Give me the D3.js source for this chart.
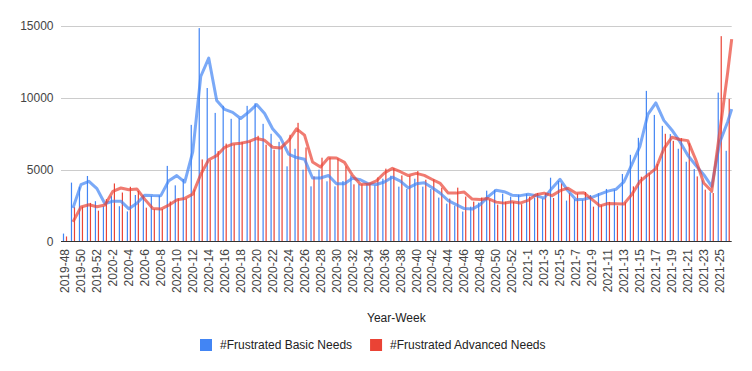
<!DOCTYPE html>
<html>
<head>
<meta charset="utf-8">
<script src="https://cdn.jsdelivr.net/npm/d3@7"></script>
<style>
  body { margin: 0; background: #fff; }
  text { font-family: Arial, "Liberation Sans", sans-serif; }
</style>
</head>
<body>
<div id="chart"></div>
<script>

const weeks = [
  "2019-48","2019-49","2019-50","2019-51","2019-52",
  "2020-1","2020-2","2020-3","2020-4","2020-5","2020-6","2020-7","2020-8","2020-9","2020-10",
  "2020-11","2020-12","2020-13","2020-14","2020-15","2020-16","2020-17","2020-18","2020-19","2020-20",
  "2020-21","2020-22","2020-23","2020-24","2020-25","2020-26","2020-27","2020-28","2020-29","2020-30",
  "2020-31","2020-32","2020-33","2020-34","2020-35","2020-36","2020-37","2020-38","2020-39","2020-40",
  "2020-41","2020-42","2020-43","2020-44","2020-45","2020-46","2020-47","2020-48","2020-49","2020-50",
  "2020-51","2020-52","2020-53",
  "2021-1","2021-2","2021-3","2021-4","2021-5","2021-6","2021-7","2021-8","2021-9","2021-10",
  "2021-11","2021-12","2021-13","2021-14","2021-15","2021-16","2021-17","2021-18","2021-19","2021-20",
  "2021-21","2021-22","2021-23","2021-24","2021-25","2021-26"
];

// weekly counts
const basicNeeds = [
  550, 4090, 3810, 4550, 2800, 2450, 3150, 2450, 2090, 3230,
  3210, 3170, 3200, 5250, 3900, 4350, 8100, 14820, 10660, 8930,
  9420, 8520, 8560, 9420, 9600, 8170, 7480, 6920, 5220, 6440,
  4990, 3830, 4990, 4180, 3830, 4200, 4590, 3990, 4020, 3900,
  4360, 4570, 3810, 3650, 4360, 3810, 3650, 3050, 2630, 2490,
  2080, 2420, 2700, 3530, 3600, 3320, 3120, 3250, 3320, 3050,
  2980, 4430, 4200, 2840, 2950, 2910, 3230, 3350, 3650, 3600,
  4690, 6020, 7200, 10460, 8790, 8030, 7460, 6440, 5540, 5030,
  4250, 3420, 10340, 6300
];

const advancedNeeds = [
  350, 2380, 2420, 2680, 2140, 2940, 4030, 3400, 3800, 3500,
  2350, 2240, 2260, 2780, 3000, 2980, 3600, 5700, 5650, 6280,
  6800, 6740, 6900, 6970, 7340, 6720, 6370, 6600, 7410, 8240,
  6530, 4520, 5820, 5820, 5770, 5220, 3970, 3970, 3970, 4450,
  5060, 5100, 4590, 4570, 4890, 4290, 4320, 3740, 2980, 3740,
  3120, 2770, 3050, 2910, 2560, 2770, 2750, 2590, 3120, 3370,
  3350, 3020, 4040, 3370, 3320, 3440, 2420, 2520, 2750, 2490,
  2720, 3830, 4500, 4750, 5380, 7480, 6990, 7180, 6830, 4520,
  3600, 3370, 14260, 9900
];

// trend lines (2-week moving average)
const basicTrend = [
  null, 2320, 3950, 4180, 3675, 2625, 2800, 2800, 2270, 2660,
  3220, 3190, 3185, 4225, 4575, 4125, 6225, 11460, 12740, 9795,
  9175, 8970, 8540, 8990, 9510, 8885, 7825, 7200, 6070, 5830,
  5715, 4410, 4410, 4585, 4005, 4015, 4395, 4290, 4005, 3960,
  4130, 4465, 4190, 3730, 4005, 4085, 3730, 3350, 2840, 2560,
  2285, 2250, 2560, 3115, 3565, 3460, 3220, 3185, 3285, 3185,
  3015, 3705, 4315, 3520, 2895, 2930, 3070, 3290, 3500, 3625,
  4145, 5355, 6610, 8830, 9625, 8410, 7745, 6950, 5990, 5285,
  4640, 3835, 6880, 8320
];

const advancedTrend = [
  null, 1365, 2400, 2550, 2410, 2540, 3485, 3715, 3600, 3650,
  2925, 2295, 2250, 2520, 2890, 2990, 3290, 4650, 5675, 5965,
  6540, 6770, 6820, 6935, 7155, 7030, 6545, 6485, 7005, 7825,
  7385, 5525, 5170, 5820, 5795, 5495, 4595, 3970, 3970, 4210,
  4755, 5080, 4845, 4580, 4730, 4590, 4305, 4030, 3360, 3360,
  3430, 2945, 2910, 2980, 2735, 2665, 2760, 2670, 2855, 3245,
  3360, 3185, 3530, 3705, 3345, 3380, 2930, 2470, 2635, 2620,
  2605, 3275, 4165, 4625, 5065, 6430, 7235, 7085, 7005, 5675,
  4060, 3485, 7600, 11750
];

// value where each trend line meets the right edge of the plot
const trendEdge = { basic: 9190, advanced: 14050 };

const yTicks = [0, 5000, 10000, 15000];

const series = [
  { key: "basic", name: "#Frustrated Basic Needs", color: "#4285f4", values: basicNeeds, trend: basicTrend },
  { key: "advanced", name: "#Frustrated Advanced Needs", color: "#ea4335", values: advancedNeeds, trend: advancedTrend }
];

const width = 752;
const height = 371;

const svg = d3.select("#chart").append("svg")
  .attr("width", width)
  .attr("height", height)
  .attr("viewBox", `0 0 ${width} ${height}`);

svg.append("rect").attr("width", width).attr("height", height).attr("fill", "#fff");

const x = d3.scaleBand()
  .domain(weeks)
  .range([61, 731.7])
  .padding(0);

const y = d3.scaleLinear()
  .domain([0, 15000])
  .range([241.5, 25.5]);

// bar offsets inside each week
const xs = d3.scaleBand()
  .domain(series.map(s => s.key))
  .range([-2.1, 2.1])
  .paddingInner(0.6);

const cx = d => x(d) + x.bandwidth() / 2;

// gridlines
svg.append("g")
  .selectAll("line")
  .data(yTicks.filter(t => t > 0))
  .enter()
    .append("line")
      .attr("x1", x.range()[0])
      .attr("x2", x.range()[1])
      .attr("y1", d => Math.round(y(d)) + 0.5)
      .attr("y2", d => Math.round(y(d)) + 0.5)
      .attr("stroke", "#cccccc")
      .attr("stroke-width", 1);

// y labels
svg.append("g")
  .selectAll("text")
  .data(yTicks)
  .enter()
    .append("text")
      .attr("x", 53.5)
      .attr("y", d => y(d))
      .attr("dy", "0.35em")
      .attr("text-anchor", "end")
      .attr("font-size", 12)
      .attr("fill", "#444")
      .text(d => d);

// bars
series.forEach(s => {
  svg.append("g")
    .selectAll("rect")
    .data(weeks)
    .enter()
      .append("rect")
        .attr("x", (d) => cx(d) + xs(s.key))
        .attr("width", xs.bandwidth())
        .attr("y", (d, i) => y(s.values[i]))
        .attr("height", (d, i) => y(0) - y(s.values[i]))
        .attr("fill", s.color);
});

// baseline
svg.append("line")
  .attr("x1", x.range()[0])
  .attr("x2", x.range()[1])
  .attr("y1", y(0))
  .attr("y2", y(0))
  .attr("stroke", "#333")
  .attr("stroke-width", 1);

// trend lines
const line = d3.line()
  .defined(d => d.v !== null)
  .x(d => d.x)
  .y(d => y(d.v));

series.forEach(s => {
  const pts = weeks.map((w, i) => ({ x: cx(w), v: s.trend[i] }));
  pts.push({ x: x.range()[1], v: trendEdge[s.key] });
  svg.append("path")
    .datum(pts)
    .attr("d", line)
    .attr("fill", "none")
    .attr("stroke", s.color)
    .attr("stroke-width", 3)
    .attr("stroke-opacity", 0.7)
    .attr("stroke-linejoin", "round");
});

// x labels, every second week
svg.append("g")
  .selectAll("text")
  .data(weeks.filter((d, i) => i % 2 === 0))
  .enter()
    .append("text")
      .attr("transform", d => `translate(${cx(d)},249) rotate(-90)`)
      .attr("dy", "0.35em")
      .attr("text-anchor", "end")
      .attr("font-size", 12)
      .attr("fill", "#444")
      .text(d => d);

// axis title
svg.append("text")
  .attr("x", (x.range()[0] + x.range()[1]) / 2)
  .attr("y", 322)
  .attr("text-anchor", "middle")
  .attr("font-size", 12)
  .attr("fill", "#222")
  .text("Year-Week");

// legend
const legend = svg.append("g");
let lx = 200;
series.forEach(s => {
  legend.append("rect")
    .attr("x", lx)
    .attr("y", 339)
    .attr("width", 12)
    .attr("height", 12)
    .attr("fill", s.color);
  const t = legend.append("text")
    .attr("x", lx + 20)
    .attr("y", 349)
    .attr("font-size", 12)
    .attr("fill", "#222")
    .text(s.name);
  lx += 20 + t.node().getComputedTextLength() + 18;
});

</script>
</body>
</html>
